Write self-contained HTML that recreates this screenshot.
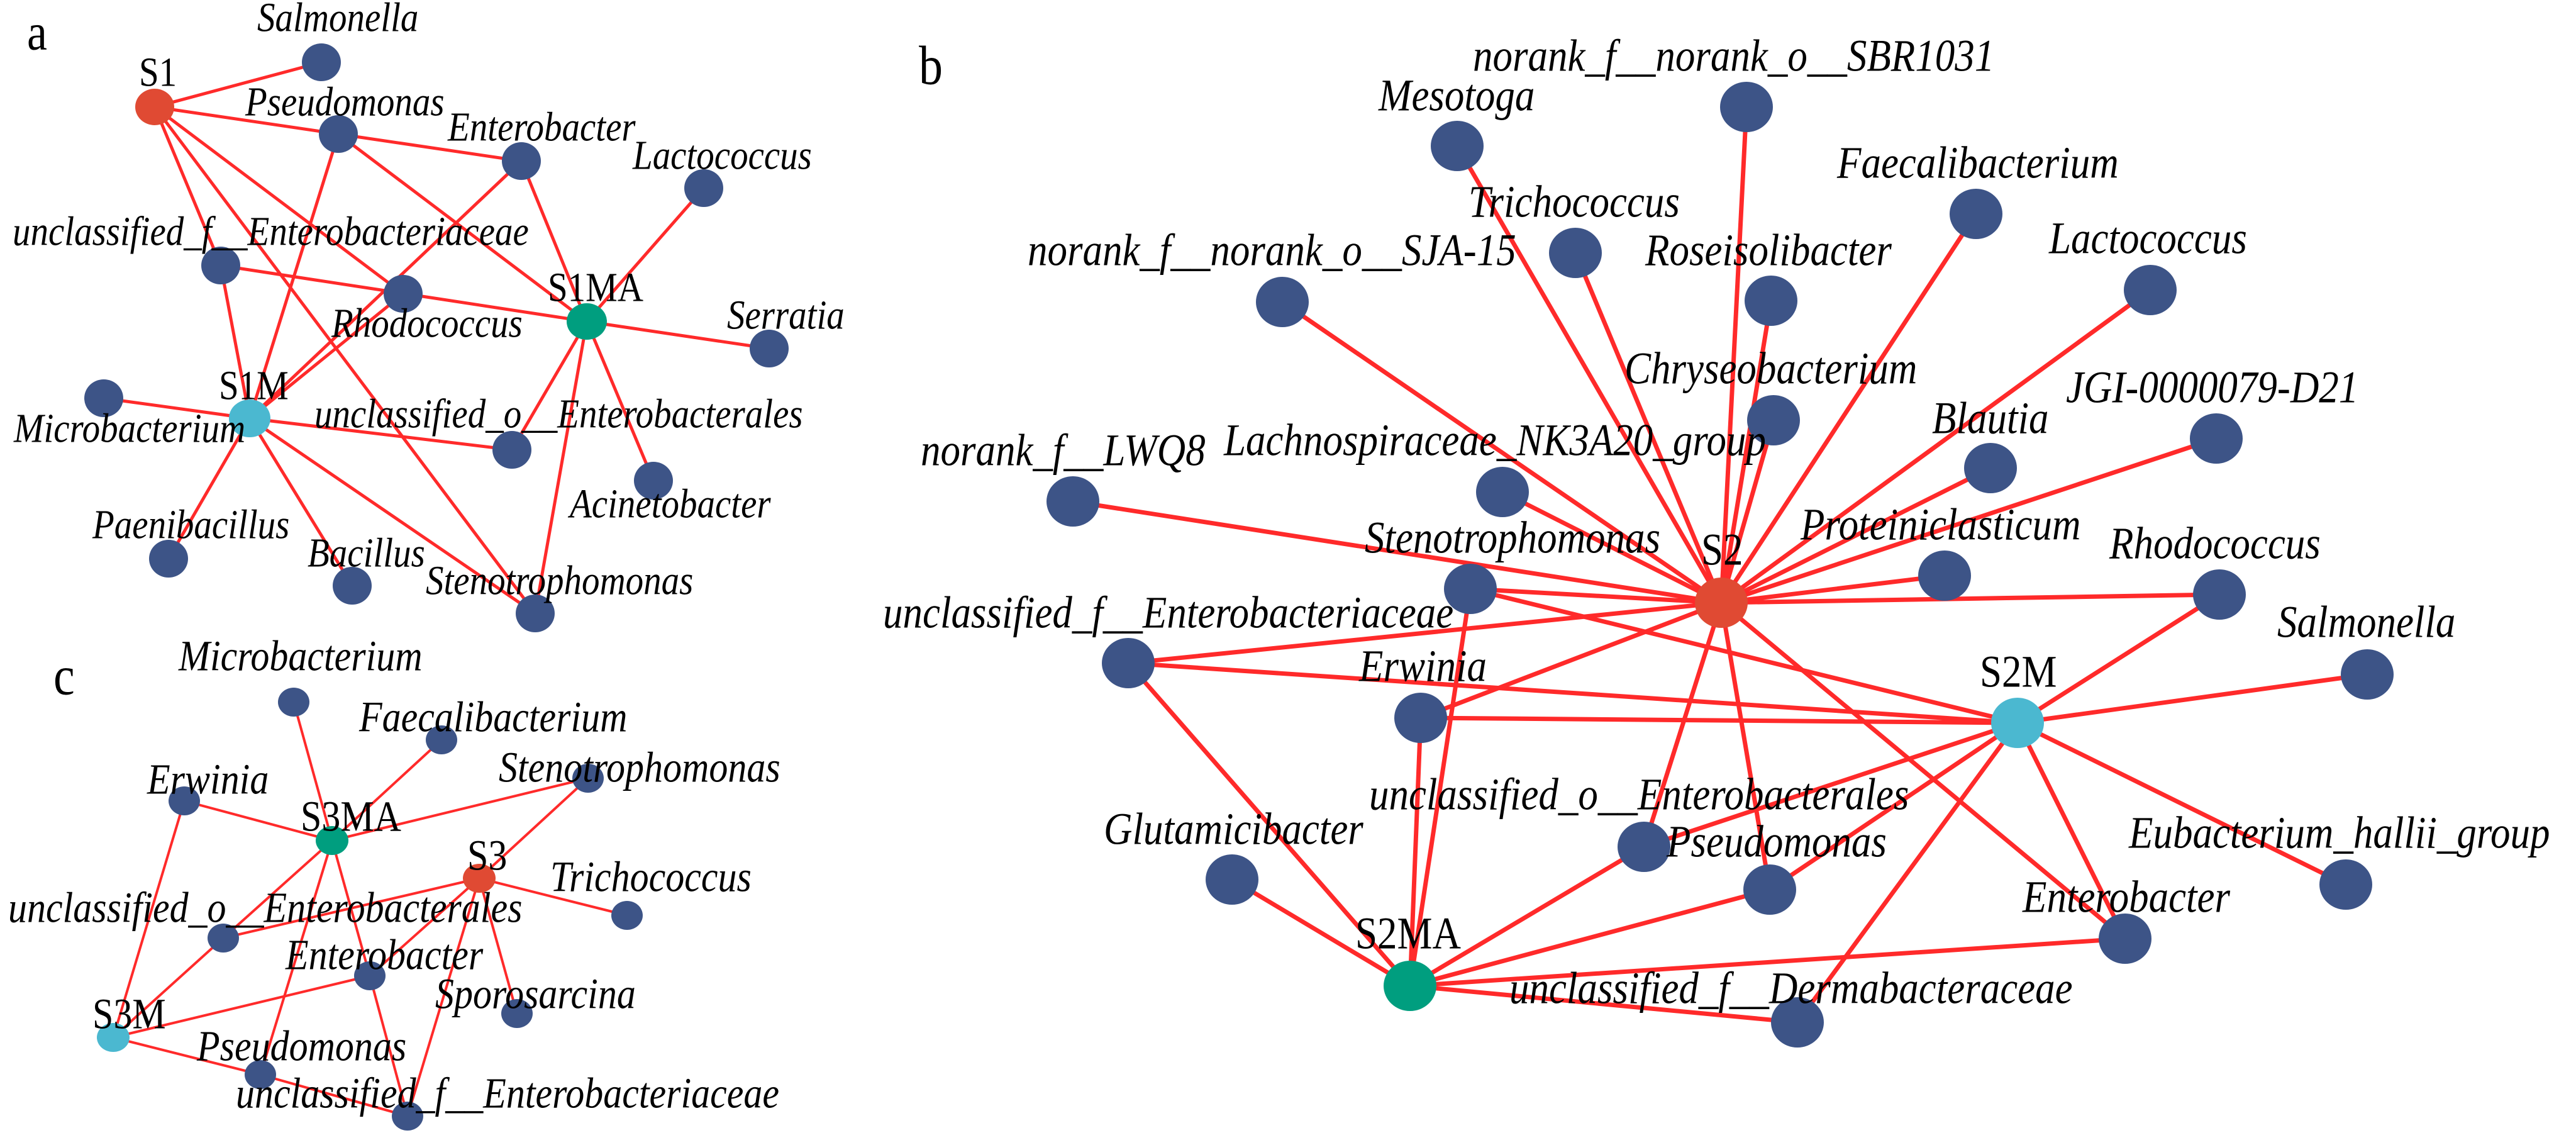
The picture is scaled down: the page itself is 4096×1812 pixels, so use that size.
<!DOCTYPE html>
<html><head><meta charset="utf-8"><style>
html,body{margin:0;padding:0;background:#fff;}
svg{display:block}
text{font-family:"Liberation Serif",serif;fill:#000;transform-box:fill-box;transform-origin:50% 85%;transform:scaleY(1.15)}
.i{font-style:italic}
</style></head><body>
<svg width="4096" height="1812" viewBox="0 0 4096 1812" xmlns="http://www.w3.org/2000/svg">
<rect width="4096" height="1812" fill="#fff"/>
<!-- Panel a edges -->
<g stroke="#ff2a2a" stroke-width="5" fill="none">
<line x1="246" y1="170" x2="511" y2="99"/>
<line x1="246" y1="170" x2="538" y2="213"/>
<line x1="246" y1="170" x2="351" y2="422"/>
<line x1="246" y1="170" x2="641" y2="467"/>
<line x1="246" y1="170" x2="851" y2="975"/>
<line x1="538" y1="213" x2="829" y2="256"/>
<line x1="538" y1="213" x2="933" y2="511"/>
<line x1="538" y1="213" x2="397" y2="665"/>
<line x1="829" y1="256" x2="933" y2="511"/>
<line x1="829" y1="256" x2="397" y2="665"/>
<line x1="1119" y1="299" x2="933" y2="511"/>
<line x1="351" y1="422" x2="933" y2="511"/>
<line x1="351" y1="422" x2="397" y2="665"/>
<line x1="641" y1="467" x2="397" y2="665"/>
<line x1="933" y1="511" x2="1223" y2="554"/>
<line x1="933" y1="511" x2="814" y2="715"/>
<line x1="933" y1="511" x2="1039" y2="764"/>
<line x1="933" y1="511" x2="851" y2="975"/>
<line x1="397" y1="665" x2="165" y2="633"/>
<line x1="397" y1="665" x2="814" y2="715"/>
<line x1="397" y1="665" x2="268" y2="888"/>
<line x1="397" y1="665" x2="560" y2="931"/>
<line x1="397" y1="665" x2="851" y2="975"/>
</g>
<g fill="#3d5487">
<ellipse cx="511" cy="99" rx="31" ry="30"/>
<ellipse cx="538" cy="213" rx="31" ry="30"/>
<ellipse cx="829" cy="256" rx="31" ry="30"/>
<ellipse cx="1119" cy="299" rx="31" ry="30"/>
<ellipse cx="351" cy="422" rx="31" ry="30"/>
<ellipse cx="641" cy="467" rx="31" ry="30"/>
<ellipse cx="1223" cy="554" rx="31" ry="30"/>
<ellipse cx="165" cy="633" rx="31" ry="30"/>
<ellipse cx="814" cy="715" rx="31" ry="30"/>
<ellipse cx="1039" cy="764" rx="31" ry="30"/>
<ellipse cx="268" cy="888" rx="31" ry="30"/>
<ellipse cx="560" cy="931" rx="31" ry="30"/>
<ellipse cx="851" cy="975" rx="31" ry="30"/>
</g>
<ellipse cx="246" cy="170" rx="31" ry="29" fill="#e04a33"/>
<ellipse cx="933" cy="511" rx="32" ry="29" fill="#009e7f"/>
<ellipse cx="397" cy="665" rx="33" ry="30" fill="#4bb8d0"/>
<g font-size="57">
<text x="43" y="79" font-size="72">a</text>
<text x="221" y="137">S1</text>
<text x="871" y="479">S1MA</text>
<text x="348" y="635">S1M</text>
<g class="i">
<text x="409" y="50">Salmonella</text>
<text x="390" y="184">Pseudomonas</text>
<text x="712" y="224">Enterobacter</text>
<text x="1006" y="269">Lactococcus</text>
<text x="20" y="390">unclassified_f__Enterobacteriaceae</text>
<text x="527" y="536">Rhodococcus</text>
<text x="1156" y="523">Serratia</text>
<text x="22" y="703">Microbacterium</text>
<text x="500" y="680">unclassified_o__Enterobacterales</text>
<text x="906" y="823">Acinetobacter</text>
<text x="147" y="856">Paenibacillus</text>
<text x="489" y="901">Bacillus</text>
<text x="677" y="945">Stenotrophomonas</text>
</g></g>

<!-- Panel b edges -->
<g stroke="#ff2a2a" stroke-width="7" fill="none">
<line x1="2737" y1="958" x2="2317" y2="232"/>
<line x1="2737" y1="958" x2="2777" y2="170"/>
<line x1="2737" y1="958" x2="2505" y2="402"/>
<line x1="2737" y1="958" x2="2816" y2="478"/>
<line x1="2737" y1="958" x2="3142" y2="340"/>
<line x1="2737" y1="958" x2="3419" y2="461"/>
<line x1="2737" y1="958" x2="2039" y2="480"/>
<line x1="2737" y1="958" x2="2820" y2="668"/>
<line x1="2737" y1="958" x2="2389" y2="782"/>
<line x1="2737" y1="958" x2="3165" y2="744"/>
<line x1="2737" y1="958" x2="3524" y2="697"/>
<line x1="2737" y1="958" x2="1706" y2="797"/>
<line x1="2737" y1="958" x2="2338" y2="936"/>
<line x1="2737" y1="958" x2="3092" y2="915"/>
<line x1="2737" y1="958" x2="3529" y2="945"/>
<line x1="2737" y1="958" x2="1794" y2="1054"/>
<line x1="2737" y1="958" x2="2259" y2="1141"/>
<line x1="2737" y1="958" x2="2614" y2="1346"/>
<line x1="2737" y1="958" x2="2814" y2="1414"/>
<line x1="2737" y1="958" x2="3379" y2="1492"/>
<line x1="2338" y1="936" x2="3208" y2="1149"/>
<line x1="2338" y1="936" x2="2242" y2="1567"/>
<line x1="1794" y1="1054" x2="3208" y2="1149"/>
<line x1="1794" y1="1054" x2="2242" y2="1567"/>
<line x1="2259" y1="1141" x2="3208" y2="1149"/>
<line x1="2259" y1="1141" x2="2242" y2="1567"/>
<line x1="3529" y1="945" x2="3208" y2="1149"/>
<line x1="3764" y1="1072" x2="3208" y2="1149"/>
<line x1="3730" y1="1406" x2="3208" y2="1149"/>
<line x1="3379" y1="1492" x2="3208" y2="1149"/>
<line x1="2858" y1="1625" x2="3208" y2="1149"/>
<line x1="2814" y1="1414" x2="3208" y2="1149"/>
<line x1="2614" y1="1346" x2="3208" y2="1149"/>
<line x1="2614" y1="1346" x2="2242" y2="1567"/>
<line x1="2814" y1="1414" x2="2242" y2="1567"/>
<line x1="3379" y1="1492" x2="2242" y2="1567"/>
<line x1="2858" y1="1625" x2="2242" y2="1567"/>
<line x1="1959" y1="1398" x2="2242" y2="1567"/>
</g>
<g fill="#3d5487">
<ellipse cx="2317" cy="232" rx="42" ry="40"/>
<ellipse cx="2777" cy="170" rx="42" ry="40"/>
<ellipse cx="2505" cy="402" rx="42" ry="40"/>
<ellipse cx="2816" cy="478" rx="42" ry="40"/>
<ellipse cx="3142" cy="340" rx="42" ry="40"/>
<ellipse cx="3419" cy="461" rx="42" ry="40"/>
<ellipse cx="2039" cy="480" rx="42" ry="40"/>
<ellipse cx="2820" cy="668" rx="42" ry="40"/>
<ellipse cx="2389" cy="782" rx="42" ry="40"/>
<ellipse cx="3165" cy="744" rx="42" ry="40"/>
<ellipse cx="3524" cy="697" rx="42" ry="40"/>
<ellipse cx="1706" cy="797" rx="42" ry="40"/>
<ellipse cx="2338" cy="936" rx="42" ry="40"/>
<ellipse cx="3092" cy="915" rx="42" ry="40"/>
<ellipse cx="3529" cy="945" rx="42" ry="40"/>
<ellipse cx="1794" cy="1054" rx="42" ry="40"/>
<ellipse cx="2259" cy="1141" rx="42" ry="40"/>
<ellipse cx="2614" cy="1346" rx="42" ry="40"/>
<ellipse cx="2814" cy="1414" rx="42" ry="40"/>
<ellipse cx="3379" cy="1492" rx="42" ry="40"/>
<ellipse cx="3764" cy="1072" rx="42" ry="40"/>
<ellipse cx="3730" cy="1406" rx="42" ry="40"/>
<ellipse cx="1959" cy="1398" rx="42" ry="40"/>
<ellipse cx="2858" cy="1625" rx="42" ry="40"/>
</g>
<ellipse cx="2737" cy="958" rx="42" ry="40" fill="#e04a33"/>
<ellipse cx="3208" cy="1149" rx="42" ry="40" fill="#4bb8d0"/>
<ellipse cx="2242" cy="1567" rx="42" ry="40" fill="#009e7f"/>
<g font-size="63">
<text x="1461" y="134" font-size="76">b</text>
<text x="2705" y="898">S2</text>
<text x="3148" y="1092">S2M</text>
<text x="2155" y="1508">S2MA</text>
<g class="i">
<text x="2192" y="176">Mesotoga</text>
<text x="2342" y="113">norank_f__norank_o__SBR1031</text>
<text x="2335" y="345">Trichococcus</text>
<text x="1634" y="422">norank_f__norank_o__SJA-15</text>
<text x="2616" y="422">Roseisolibacter</text>
<text x="2921" y="283">Faecalibacterium</text>
<text x="3258" y="403">Lactococcus</text>
<text x="2583" y="610">Chryseobacterium</text>
<text x="3285" y="640">JGI-0000079-D21</text>
<text x="3072" y="689">Blautia</text>
<text x="1946" y="724">Lachnospiraceae_NK3A20_group</text>
<text x="1464" y="740">norank_f__LWQ8</text>
<text x="2170" y="879">Stenotrophomonas</text>
<text x="2863" y="858">Proteiniclasticum</text>
<text x="3354" y="888">Rhodococcus</text>
<text x="1404" y="998">unclassified_f__Enterobacteriaceae</text>
<text x="3621" y="1013">Salmonella</text>
<text x="2161" y="1083">Erwinia</text>
<text x="2177" y="1287">unclassified_o__Enterobacterales</text>
<text x="2650" y="1362">Pseudomonas</text>
<text x="1755" y="1342">Glutamicibacter</text>
<text x="3385" y="1348">Eubacterium_hallii_group</text>
<text x="3216" y="1450">Enterobacter</text>
<text x="2400" y="1595">unclassified_f__Dermabacteraceae</text>
</g></g>

<!-- Panel c edges -->
<g stroke="#ff2a2a" stroke-width="4" fill="none">
<line x1="528" y1="1336" x2="467" y2="1116"/>
<line x1="528" y1="1336" x2="702" y2="1176"/>
<line x1="528" y1="1336" x2="293" y2="1273"/>
<line x1="528" y1="1336" x2="935" y2="1237"/>
<line x1="528" y1="1336" x2="355" y2="1491"/>
<line x1="528" y1="1336" x2="588" y2="1551"/>
<line x1="528" y1="1336" x2="414" y2="1708"/>
<line x1="762" y1="1396" x2="935" y2="1237"/>
<line x1="762" y1="1396" x2="997" y2="1455"/>
<line x1="762" y1="1396" x2="355" y2="1491"/>
<line x1="762" y1="1396" x2="588" y2="1551"/>
<line x1="762" y1="1396" x2="822" y2="1611"/>
<line x1="762" y1="1396" x2="648" y2="1774"/>
<line x1="180" y1="1649" x2="293" y2="1273"/>
<line x1="180" y1="1649" x2="355" y2="1491"/>
<line x1="180" y1="1649" x2="588" y2="1551"/>
<line x1="180" y1="1649" x2="414" y2="1708"/>
<line x1="414" y1="1708" x2="648" y2="1774"/>
<line x1="588" y1="1551" x2="648" y2="1774"/>
</g>
<g fill="#3d5487">
<ellipse cx="467" cy="1116" rx="25" ry="23"/>
<ellipse cx="702" cy="1176" rx="25" ry="23"/>
<ellipse cx="935" cy="1237" rx="25" ry="23"/>
<ellipse cx="293" cy="1273" rx="25" ry="23"/>
<ellipse cx="997" cy="1455" rx="25" ry="23"/>
<ellipse cx="355" cy="1491" rx="25" ry="23"/>
<ellipse cx="588" cy="1551" rx="25" ry="23"/>
<ellipse cx="822" cy="1611" rx="25" ry="23"/>
<ellipse cx="414" cy="1708" rx="25" ry="23"/>
<ellipse cx="648" cy="1774" rx="25" ry="23"/>
</g>
<ellipse cx="528" cy="1336" rx="26" ry="23" fill="#009e7f"/>
<ellipse cx="762" cy="1396" rx="26" ry="23" fill="#e04a33"/>
<ellipse cx="180" cy="1649" rx="26" ry="23" fill="#4bb8d0"/>
<g font-size="60">
<text x="85" y="1104" font-size="76">c</text>
<text x="478" y="1321">S3MA</text>
<text x="743" y="1383">S3</text>
<text x="147" y="1635">S3M</text>
<g class="i">
<text x="284" y="1066">Microbacterium</text>
<text x="571" y="1163">Faecalibacterium</text>
<text x="793" y="1243">Stenotrophomonas</text>
<text x="234" y="1262">Erwinia</text>
<text x="875" y="1417">Trichococcus</text>
<text x="13" y="1466">unclassified_o__Enterobacterales</text>
<text x="454" y="1541">Enterobacter</text>
<text x="692" y="1603">Sporosarcina</text>
<text x="313" y="1686">Pseudomonas</text>
<text x="375" y="1761">unclassified_f__Enterobacteriaceae</text>
</g></g>
</svg>
</body></html>
